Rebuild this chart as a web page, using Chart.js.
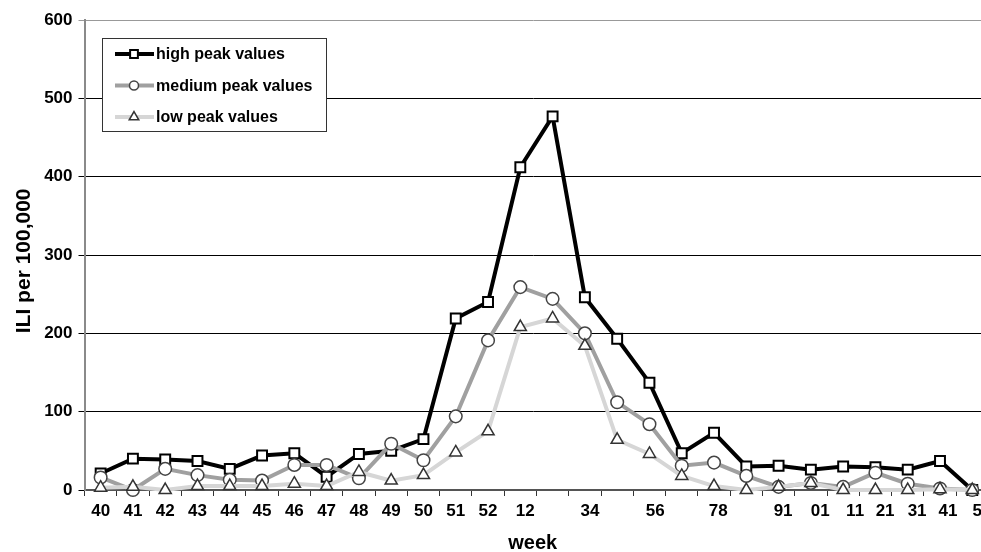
<!DOCTYPE html>
<html>
<head>
<meta charset="utf-8">
<title>ILI per 100,000 by week</title>
<script src="https://cdn.jsdelivr.net/npm/chart.js@4/dist/chart.umd.min.js"></script>
<style>
  html, body { margin: 0; padding: 0; background: #fff; overflow: hidden; }
  #wrap { width: 981px; height: 552px; }
</style>
</head>
<body>
<div id="wrap"><canvas id="ili" width="981" height="552"></canvas></div>
<script>
// Surveillance weeks, week 40 through week 15 of the following year
const weeks = [40, 41, 42, 43, 44, 45, 46, 47, 48, 49, 50, 51, 52,
               1, 2, 3, 4, 5, 6, 7, 8, 9, 10, 11, 12, 13, 14, 15];

// ILI consultation rates per 100,000 for the three season groups
const highPeak   = [21, 40, 39, 37, 27, 44, 47, 17, 46, 50, 65, 219, 240,
                    412, 477, 246, 193, 137, 47, 73, 30, 31, 26, 30, 29, 26, 37, 0];
const mediumPeak = [16, 0, 27, 19, 13, 12, 32, 32, 15, 59, 38, 94, 191,
                    259, 244, 200, 112, 84, 31, 35, 18, 4, 9, 4, 22, 8, 2, 0];
const lowPeak    = [3, 4, 0, 5, 5, 5, 8, 5, 23, 12, 19, 48, 75,
                    208, 219, 184, 64, 46, 18, 5, 0, 4, 9, 0, 0, 0, 1, 0];

const seriesNames = ['high peak values', 'medium peak values', 'low peak values'];

// Week labels printed under the axis; the early-year week numbers run together in pairs
const weekTickText = ['40', '41', '42', '43', '44', '45', '46', '47', '48', '49', '50', '51', '52',
                      '12', '34', '56', '78', '91', '01', '11', '21', '31', '41', '5'];
const weekTickAt   = [0, 1, 2, 3, 4, 5, 6, 7, 8, 9, 10, 11, 12,
                      13.15, 15.16, 17.18, 19.13, 21.14, 22.29, 23.37, 24.3, 25.29, 26.25, 27.15];

const yTicks = [0, 100, 200, 300, 400, 500, 600];

const FONT = "'Liberation Sans', Arial, Helvetica, sans-serif";

const toPoints = vals => weeks.map((w, i) => ({ x: i, y: vals[i] }));

// Boxed legend in the upper-left corner of the plot
const legendBox = {
  id: 'legendBox',
  afterDraw(chart) {
    const ctx = chart.ctx;
    ctx.save();
    ctx.fillStyle = '#fff';
    ctx.fillRect(102.5, 38.5, 224, 93);
    ctx.strokeStyle = '#333';
    ctx.lineWidth = 1;
    ctx.strokeRect(102.5, 38.5, 224, 93);
    chart.data.datasets.forEach((ds, i) => {
      const y = 54 + i * 31.5;
      ctx.strokeStyle = ds.borderColor;
      ctx.lineWidth = ds.borderWidth;
      ctx.beginPath();
      ctx.moveTo(115, y);
      ctx.lineTo(154, y);
      ctx.stroke();
      ctx.fillStyle = '#fff';
      ctx.strokeStyle = ds.pointBorderColor;
      ctx.lineWidth = ds.pointBorderWidth;
      Chart.helpers.drawPoint(ctx, {
        pointStyle: ds.pointStyle, radius: ds.legendRadius, rotation: 0,
        borderWidth: ds.pointBorderWidth
      }, 134, y);
      ctx.fillStyle = '#000';
      ctx.font = 'bold 16px ' + FONT;
      ctx.textAlign = 'left';
      ctx.textBaseline = 'middle';
      ctx.fillText(ds.label, 156, y + 1);
    });
    ctx.restore();
  }
};

new Chart(document.getElementById('ili'), {
  type: 'line',
  data: {
    datasets: [
      {
        label: seriesNames[0], data: toPoints(highPeak), order: 3,
        borderColor: '#000', borderWidth: 4, tension: 0,
        pointStyle: 'rect', pointRadius: 7, legendRadius: 5.5,
        pointBackgroundColor: '#fff', pointBorderColor: '#000', pointBorderWidth: 2,
        clip: false
      },
      {
        label: seriesNames[1], data: toPoints(mediumPeak), order: 2,
        borderColor: '#a0a0a0', borderWidth: 4, tension: 0,
        pointStyle: 'circle', pointRadius: 6.3, legendRadius: 4.5,
        pointBackgroundColor: '#fff', pointBorderColor: '#444', pointBorderWidth: 1.5,
        clip: false
      },
      {
        label: seriesNames[2], data: toPoints(lowPeak), order: 1,
        borderColor: '#d6d6d6', borderWidth: 4, tension: 0,
        pointStyle: 'triangle', pointRadius: 7, legendRadius: 5.5,
        pointBackgroundColor: '#fff', pointBorderColor: '#333', pointBorderWidth: 1.5,
        clip: false
      }
    ]
  },
  options: {
    responsive: false,
    animation: false,
    events: [],
    layout: { autoPadding: false, padding: { top: 20, left: 0, right: 0, bottom: 0 } },
    plugins: { legend: { display: false }, tooltip: { enabled: false } },
    scales: {
      x: {
        type: 'linear',
        min: -0.5,
        // the last week's slot is cut off by the right edge of the frame
        max: weeks.length - 0.73,
        afterBuildTicks(scale) {
          const marks = weeks.map((w, i) => ({ value: i - 0.5, mark: true }))
                             .filter(t => t.value <= scale.max);
          const labels = weekTickText.map((t, i) => ({ value: weekTickAt[i], text: t }));
          scale.ticks = marks.concat(labels).sort((a, b) => a.value - b.value);
        },
        afterFit(scale) {
          scale.height = 62;
          scale.paddingLeft = 0;
          scale.paddingRight = 0;
        },
        ticks: {
          autoSkip: false,
          maxRotation: 0,
          padding: 5,
          color: '#000',
          font: { family: FONT, size: 17, weight: 'bold' },
          callback: (value, index, ticks) => ticks[index].text || ''
        },
        grid: {
          drawOnChartArea: false,
          drawTicks: true,
          tickLength: 6,
          lineWidth: 1,
          color: ctx => (ctx.tick && ctx.tick.mark) ? '#333' : 'rgba(0,0,0,0)'
        },
        border: { display: true, color: '#555', width: 2 },
        title: {
          display: true,
          text: 'week',
          color: '#000',
          font: { family: FONT, size: 20, weight: 'bold', lineHeight: 0.9 },
          padding: { top: 0, bottom: 0 }
        }
      },
      y: {
        type: 'linear',
        min: 0,
        max: 600,
        afterBuildTicks(scale) { scale.ticks = yTicks.map(v => ({ value: v })); },
        afterFit(scale) { scale.width = 84.5; },
        ticks: {
          padding: 6,
          color: '#000',
          font: { family: FONT, size: 17, weight: 'bold' }
        },
        grid: {
          drawTicks: true,
          tickLength: 6,
          lineWidth: 1,
          color: ctx => (ctx.tick && ctx.tick.value === 600) ? '#999' : '#000'
        },
        border: { display: true, color: '#8a8a8a', width: 2 },
        title: {
          display: true,
          // trailing spaces nudge the centred title slightly toward the axis origin
          text: 'ILI per 100,000  ',
          color: '#000',
          font: { family: FONT, size: 21, weight: 'bold' },
          padding: { top: 12, bottom: 0 }
        }
      }
    }
  },
  plugins: [legendBox]
});
</script>
</body>
</html>
